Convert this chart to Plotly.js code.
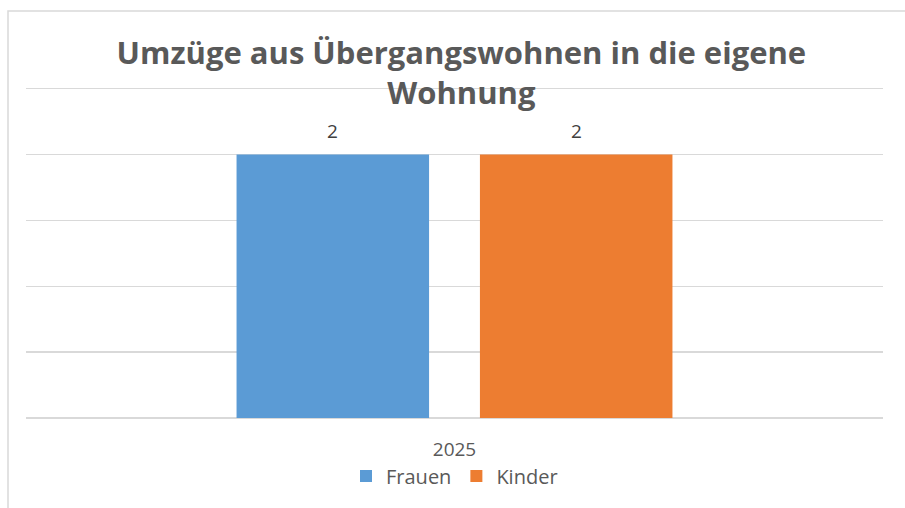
<!DOCTYPE html>
<html>
<head>
<meta charset="utf-8">
<script src="https://cdn.plot.ly/plotly-3.0.1.min.js"></script>
<style>html,body{margin:0;padding:0;background:#fff;}#chart{width:905px;height:508px;}</style>
</head>
<body>
<div id="chart"></div>
<script>
const categories = ['2025'];
const seriesNames = ['Frauen', 'Kinder'];
const frauen = [2];
const kinder = [2];
const seriesColors = ['#5B9BD5', '#ED7D31'];

const values = [frauen, kinder];
const traces = seriesNames.map((name, i) => ({
  type: 'bar',
  name: name,
  x: categories,
  y: values[i],
  marker: {color: seriesColors[i]},
  hoverinfo: 'skip'
}));

const plotW = 905 - 26 - 22;
const plotH = 508 - 86 - 90;
const bargap = 0.432, bargroupgap = 0.209;
const slot = plotW * (1 - bargap) / 2;
const annotations = [];
values.forEach((arr, i) => {
  arr.forEach((v, j) => {
    annotations.push({
      x: j, y: v, xref: 'x', yref: 'y',
      text: String(v), showarrow: false,
      xshift: (i - 0.5) * slot, yshift: 24,
      font: {family: 'Open Sans, sans-serif', size: 19, color: '#404040'}
    });
  });
});

const layout = {
  width: 905, height: 508,
  margin: {l: 26, r: 22, t: 86, b: 90},
  paper_bgcolor: '#ffffff', plot_bgcolor: '#ffffff',
  title: {
    text: 'Umzüge aus Übergangswohnen in die eigene<br>Wohnung',
    x: 0.508, xanchor: 'center', xref: 'paper',
    y: 0.875, yanchor: 'top', yref: 'container',
    font: {family: 'Open Sans, sans-serif', size: 31, color: '#595959', weight: 'bold'}
  },
  barmode: 'group',
  bargap: bargap, bargroupgap: bargroupgap,
  xaxis: {
    type: 'category', range: [-0.5, 0.5], autorange: false,
    showgrid: false, zeroline: false, showline: false,
    ticks: '', ticklabelstandoff: 18,
    tickfont: {family: 'Open Sans, sans-serif', size: 19, color: '#595959'}
  },
  yaxis: {
    range: [0, 2.52], autorange: false, dtick: 0.5, tick0: 0,
    showgrid: true, gridcolor: '#d9d9d9', gridwidth: 1.5,
    zeroline: true, zerolinecolor: '#d9d9d9', zerolinewidth: 1.5,
    showticklabels: false, ticks: '', showline: false
  },
  showlegend: true,
  legend: {
    orientation: 'h', x: 0.5, xanchor: 'center', y: (418 - 476) / plotH, yanchor: 'middle',
    font: {family: 'Open Sans, sans-serif', size: 20, color: '#595959'},
    itemwidth: 30, itemclick: false, itemdoubleclick: false
  },
  annotations: annotations,
  shapes: [{
    type: 'rect', xref: 'paper', yref: 'paper',
    x0: (8 - 26) / plotW, x1: 1.2, y0: -0.5, y1: (418 - 11) / plotH,
    line: {color: '#d9d9d9', width: 1.5}, fillcolor: 'rgba(0,0,0,0)', layer: 'below'
  }]
};

Plotly.newPlot('chart', traces, layout, {displayModeBar: false, staticPlot: true});
</script>
</body>
</html>
